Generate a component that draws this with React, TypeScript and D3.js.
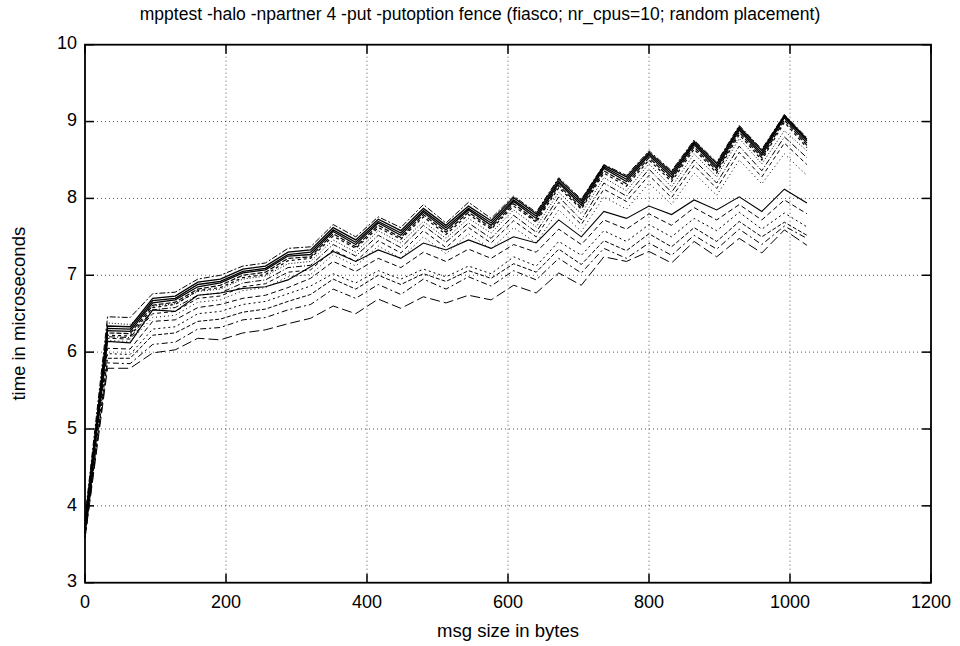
import React from "react";
import * as d3 from "d3";

const titleText = "mpptest -halo -npartner 4 -put -putoption fence (fiasco; nr_cpus=10; random placement)";
const xLabel = "msg size in bytes";
const yLabel = "time in microseconds";

const xTicks = [0, 200, 400, 600, 800, 1000, 1200];
const yTicks = [3, 4, 5, 6, 7, 8, 9, 10];

const msgSizes = [0, 32, 64, 96, 128, 160, 192, 224, 256, 288, 320, 352, 384, 416, 448, 480, 512, 544, 576, 608, 640, 672, 704, 736, 768, 800, 832, 864, 896, 928, 960, 992, 1024];

const s1 = [3.70, 6.28, 6.27, 6.64, 6.68, 6.85, 6.90, 7.03, 7.07, 7.25, 7.27, 7.57, 7.40, 7.68, 7.52, 7.82, 7.59, 7.85, 7.65, 7.96, 7.74, 8.20, 7.91, 8.39, 8.22, 8.56, 8.28, 8.70, 8.39, 8.89, 8.56, 9.05, 8.72];
const s2 = [3.75, 6.31, 6.30, 6.67, 6.70, 6.88, 6.92, 7.05, 7.09, 7.27, 7.30, 7.59, 7.43, 7.70, 7.55, 7.84, 7.62, 7.87, 7.68, 7.98, 7.77, 8.22, 7.94, 8.41, 8.25, 8.58, 8.31, 8.72, 8.42, 8.91, 8.59, 9.07, 8.75];
const s3 = [3.65, 6.25, 6.24, 6.61, 6.65, 6.82, 6.87, 7.00, 7.04, 7.22, 7.24, 7.54, 7.37, 7.65, 7.49, 7.79, 7.56, 7.82, 7.62, 7.93, 7.71, 8.17, 7.88, 8.36, 8.19, 8.53, 8.25, 8.67, 8.36, 8.86, 8.53, 9.02, 8.69];
const s4 = [3.80, 6.34, 6.33, 6.70, 6.73, 6.91, 6.95, 7.08, 7.12, 7.30, 7.33, 7.62, 7.46, 7.73, 7.58, 7.87, 7.65, 7.90, 7.71, 8.01, 7.80, 8.25, 7.97, 8.43, 8.28, 8.60, 8.34, 8.74, 8.45, 8.93, 8.62, 9.08, 8.77];
const s5 = [3.72, 6.22, 6.21, 6.58, 6.62, 6.80, 6.84, 6.97, 7.01, 7.19, 7.22, 7.51, 7.35, 7.62, 7.47, 7.76, 7.53, 7.79, 7.60, 7.90, 7.69, 8.14, 7.86, 8.33, 8.16, 8.50, 8.22, 8.64, 8.33, 8.83, 8.50, 8.99, 8.66];
const s6 = [3.85, 6.46, 6.45, 6.76, 6.78, 6.95, 7.00, 7.12, 7.16, 7.35, 7.37, 7.66, 7.50, 7.76, 7.62, 7.92, 7.68, 7.95, 7.74, 8.03, 7.82, 8.27, 7.99, 8.44, 8.30, 8.62, 8.36, 8.76, 8.47, 8.95, 8.64, 9.09, 8.79];
const s7 = [3.68, 6.38, 6.36, 6.60, 6.63, 6.79, 6.82, 6.95, 6.99, 7.15, 7.18, 7.46, 7.30, 7.58, 7.42, 7.70, 7.48, 7.74, 7.55, 7.85, 7.63, 8.08, 7.80, 8.27, 8.10, 8.45, 8.15, 8.58, 8.28, 8.78, 8.45, 8.88, 8.62];
const s8 = [3.66, 6.20, 6.19, 6.55, 6.58, 6.74, 6.77, 6.90, 6.94, 7.10, 7.13, 7.40, 7.25, 7.52, 7.36, 7.65, 7.43, 7.68, 7.48, 7.78, 7.56, 8.02, 7.72, 8.20, 8.03, 8.38, 8.08, 8.50, 8.20, 8.68, 8.36, 8.80, 8.53];
const s9 = [3.62, 6.18, 6.17, 6.50, 6.53, 6.70, 6.73, 6.85, 6.89, 7.04, 7.07, 7.33, 7.18, 7.45, 7.29, 7.58, 7.36, 7.62, 7.42, 7.71, 7.50, 7.95, 7.66, 8.12, 7.96, 8.30, 8.01, 8.43, 8.13, 8.60, 8.28, 8.72, 8.44];
const s10 = [3.60, 6.15, 6.14, 6.45, 6.48, 6.65, 6.68, 6.80, 6.84, 6.98, 7.01, 7.27, 7.12, 7.38, 7.22, 7.50, 7.28, 7.54, 7.34, 7.62, 7.42, 7.85, 7.57, 8.02, 7.86, 8.20, 7.92, 8.33, 8.04, 8.50, 8.19, 8.58, 8.30];
const s11 = [3.70, 6.14, 6.12, 6.55, 6.53, 6.74, 6.77, 6.83, 6.85, 6.94, 7.11, 7.31, 7.18, 7.33, 7.22, 7.42, 7.33, 7.46, 7.35, 7.50, 7.42, 7.72, 7.50, 7.83, 7.74, 7.90, 7.79, 7.98, 7.85, 8.02, 7.83, 8.12, 7.94];
const s12 = [3.64, 6.05, 6.04, 6.40, 6.42, 6.58, 6.62, 6.70, 6.74, 6.84, 6.96, 7.18, 7.05, 7.22, 7.10, 7.30, 7.18, 7.34, 7.22, 7.40, 7.30, 7.60, 7.40, 7.72, 7.60, 7.80, 7.65, 7.88, 7.72, 7.92, 7.72, 7.98, 7.80];
const s13 = [3.62, 5.98, 5.97, 6.30, 6.33, 6.50, 6.53, 6.62, 6.66, 6.76, 6.86, 7.02, 6.90, 7.06, 6.95, 7.08, 6.98, 7.12, 7.02, 7.24, 7.12, 7.44, 7.26, 7.58, 7.44, 7.66, 7.50, 7.74, 7.58, 7.82, 7.60, 7.81, 7.63];
const s14 = [3.60, 5.92, 5.92, 6.22, 6.25, 6.40, 6.43, 6.52, 6.56, 6.66, 6.75, 6.95, 6.82, 7.00, 6.88, 7.02, 6.92, 7.06, 6.96, 7.15, 7.04, 7.34, 7.14, 7.45, 7.32, 7.54, 7.37, 7.62, 7.44, 7.70, 7.50, 7.69, 7.52];
const s15 = [3.58, 5.86, 5.85, 6.10, 6.13, 6.30, 6.32, 6.42, 6.45, 6.55, 6.62, 6.82, 6.70, 6.88, 6.75, 6.95, 6.82, 6.98, 6.86, 7.06, 6.94, 7.22, 7.03, 7.35, 7.22, 7.42, 7.26, 7.52, 7.34, 7.60, 7.40, 7.64, 7.48];
const s16 = [3.58, 5.79, 5.79, 5.99, 6.03, 6.18, 6.16, 6.25, 6.29, 6.37, 6.44, 6.60, 6.50, 6.69, 6.57, 6.72, 6.64, 6.74, 6.68, 6.87, 6.77, 7.03, 6.87, 7.24, 7.18, 7.31, 7.16, 7.44, 7.24, 7.48, 7.29, 7.59, 7.39];

const seriesList = [s1, s2, s3, s4, s5, s6, s7, s8, s9, s10, s11, s12, s13, s14, s15, s16];
const dashList = ["", "", "5,2", "", "3,3", "6,2,2,2", "1,2", "6,2,1,2", "4,3", "1,3", "", "5,3", "2,3", "4,2", "6,3,2,3", "10,4"];
const widthList = [1.3, 1.3, 1.2, 1.3, 1.2, 1, 1, 1, 1, 1, 1.1, 1, 1, 1, 1, 1];

export default function App() {
  const width = 960;
  const height = 646;
  const m = { left: 85, right: 931, top: 44.7, bottom: 582.7 };
  const x = d3.scaleLinear().domain([0, 1200]).range([m.left, m.right]);
  const y = d3.scaleLinear().domain([3, 10]).range([m.bottom, m.top]);
  const line = d3
    .line<number>()
    .x((_, i) => x(msgSizes[i]))
    .y((d) => y(d));
  const font = "'Liberation Sans', Arial, Helvetica, sans-serif";
  const tickLen = 9;

  return (
    <svg
      width={width}
      height={height}
      style={{ position: "absolute", left: 0, top: 0, background: "#fff" }}
      fontFamily={font}
    >
      <rect x={0} y={0} width={width} height={height} fill="#fff" />
      {xTicks.slice(1, -1).map((t) => (
        <line key={"gx" + t} x1={x(t)} x2={x(t)} y1={m.top} y2={m.bottom} stroke="#555" strokeWidth={1} strokeDasharray="1,3" />
      ))}
      {yTicks.slice(1, -1).map((t) => (
        <line key={"gy" + t} x1={m.left} x2={m.right} y1={y(t)} y2={y(t)} stroke="#555" strokeWidth={1} strokeDasharray="1,3" />
      ))}
      <g>
        {seriesList.map((s, i) => (
          <path key={i} d={line(s) || ""} fill="none" stroke="#000" strokeWidth={widthList[i]} strokeDasharray={dashList[i] || undefined} />
        ))}
      </g>
      {xTicks.map((t) => (
        <g key={"tx" + t}>
          <line x1={x(t)} x2={x(t)} y1={m.bottom} y2={m.bottom - tickLen} stroke="#000" strokeWidth={1.5} />
          <line x1={x(t)} x2={x(t)} y1={m.top} y2={m.top + tickLen} stroke="#000" strokeWidth={1.5} />
          <text x={x(t)} y={m.bottom + 21} textAnchor="middle" dominantBaseline="middle" fontSize={18}>
            {t}
          </text>
        </g>
      ))}
      {yTicks.map((t) => (
        <g key={"ty" + t}>
          <line x1={m.left} x2={m.left + tickLen} y1={y(t)} y2={y(t)} stroke="#000" strokeWidth={1.5} />
          <line x1={m.right} x2={m.right - tickLen} y1={y(t)} y2={y(t)} stroke="#000" strokeWidth={1.5} />
          <text x={m.left - 8} y={y(t)} textAnchor="end" dominantBaseline="middle" fontSize={18}>
            {t}
          </text>
        </g>
      ))}
      <rect x={m.left} y={m.top} width={m.right - m.left} height={m.bottom - m.top} fill="none" stroke="#000" strokeWidth={1.8} />
      <text x={480} y={15} textAnchor="middle" dominantBaseline="middle" fontSize={17.5}>
        {titleText}
      </text>
      <text x={(m.left + m.right) / 2} y={632} textAnchor="middle" dominantBaseline="middle" fontSize={18.5}>
        {xLabel}
      </text>
      <text transform={`translate(20,${(m.top + m.bottom) / 2}) rotate(-90)`} textAnchor="middle" dominantBaseline="middle" fontSize={18.5}>
        {yLabel}
      </text>
    </svg>
  );
}
